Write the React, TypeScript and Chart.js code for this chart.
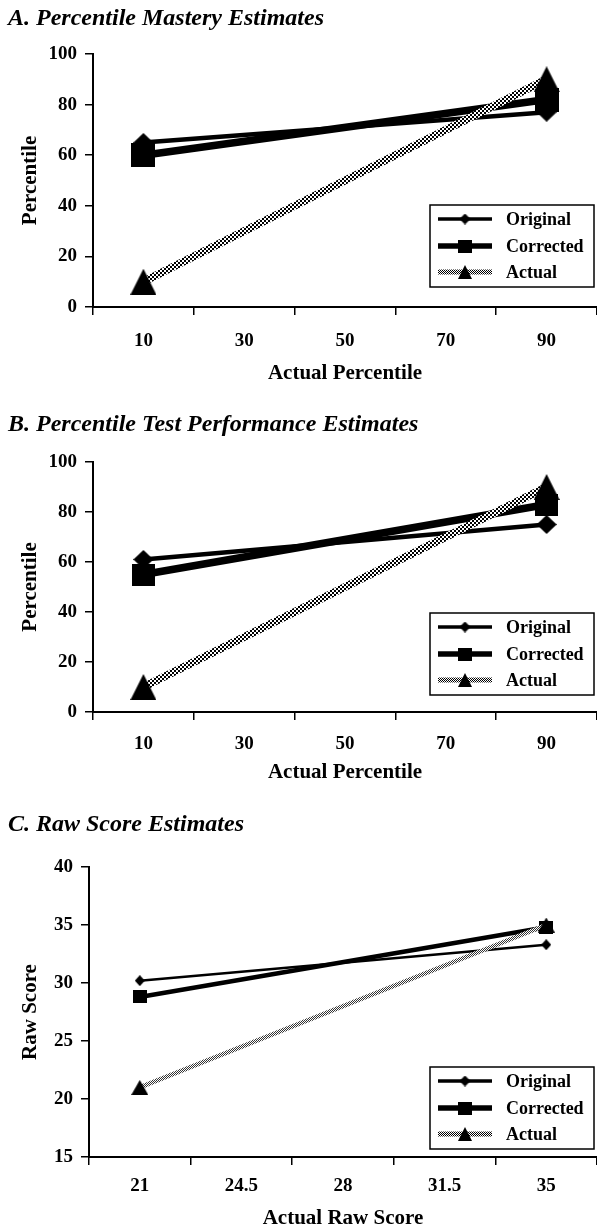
import React, { useEffect, useRef } from "react";
import { Chart, registerables } from "chart.js";

Chart.register(...registerables);

// ---------- data ----------
const SERIES_NAMES = ["Original", "Corrected", "Actual"];

const A_CATEGORIES = ["10", "30", "50", "70", "90"];
const A_ORIGINAL = [65, null, null, null, 77];
const A_CORRECTED = [60, null, null, null, 82];
const A_ACTUAL = [10, null, null, null, 90];
const A_Y_TICKS = [0, 20, 40, 60, 80, 100];

const B_CATEGORIES = ["10", "30", "50", "70", "90"];
const B_ORIGINAL = [61, null, null, null, 75];
const B_CORRECTED = [55, null, null, null, 83];
const B_ACTUAL = [10, null, null, null, 90];
const B_Y_TICKS = [0, 20, 40, 60, 80, 100];

const C_CATEGORIES = ["21", "24.5", "28", "31.5", "35"];
const C_ORIGINAL = [30.2, null, null, null, 33.3];
const C_CORRECTED = [28.8, null, null, null, 34.8];
const C_ACTUAL = [21, null, null, null, 35];
const C_Y_TICKS = [15, 20, 25, 30, 35, 40];

const FONT = "'Liberation Serif', 'Times New Roman', serif";
const W = 597;
const TICK_SIZE = 19;
const AXIS_TITLE_SIZE = 21;
const TITLE_SIZE = 24;

type Shape = "diamond" | "square" | "triangle";

function makeMarker(shape: Shape, w: number, h: number) {
  const c = document.createElement("canvas");
  c.width = Math.ceil(w);
  c.height = Math.ceil(h);
  const ctx = c.getContext("2d")!;
  ctx.fillStyle = "#000";
  ctx.beginPath();
  if (shape === "diamond") {
    ctx.moveTo(w / 2, 0);
    ctx.lineTo(w, h / 2);
    ctx.lineTo(w / 2, h);
    ctx.lineTo(0, h / 2);
  } else if (shape === "square") {
    ctx.rect(0, 0, w, h);
  } else {
    ctx.moveTo(w / 2, 0);
    ctx.lineTo(w, h);
    ctx.lineTo(0, h);
  }
  ctx.closePath();
  ctx.fill();
  return c;
}

function makePattern(target: CanvasRenderingContext2D, dark: string, light: string, cell: number) {
  const c = document.createElement("canvas");
  c.width = cell * 2;
  c.height = cell * 2;
  const ctx = c.getContext("2d")!;
  ctx.fillStyle = light;
  ctx.fillRect(0, 0, cell * 2, cell * 2);
  ctx.fillStyle = dark;
  ctx.fillRect(0, 0, cell, cell);
  ctx.fillRect(cell, cell, cell, cell);
  return target.createPattern(c, "repeat")!;
}

type Panel = {
  title: string;
  xTitle: string;
  yTitle: string;
  categories: string[];
  original: (number | null)[];
  corrected: (number | null)[];
  actual: (number | null)[];
  yTicks: number[];
  height: number;
  chartTop: number;
  chartBottom: number;
  chartLeft: number;
  titleCenter: number;
  xLabelCenter: number;
  xTitleCenter: number;
  yTitleCenter: number;
  lineWidths: number[];
  markerSizes: number[][];
  pattern: [string, string, number];
  legendBottomInset: number;
};

const PANELS: Panel[] = [
  {
    title: "A. Percentile Mastery Estimates",
    xTitle: "Actual Percentile",
    yTitle: "Percentile",
    categories: A_CATEGORIES,
    original: A_ORIGINAL,
    corrected: A_CORRECTED,
    actual: A_ACTUAL,
    yTicks: A_Y_TICKS,
    height: 400,
    chartTop: 54,
    chartBottom: 307,
    chartLeft: 93,
    titleCenter: 19,
    xLabelCenter: 341,
    xTitleCenter: 374,
    yTitleCenter: 31,
    lineWidths: [4.5, 7.5, 8],
    markerSizes: [[20, 19], [24, 24], [26, 26]],
    pattern: ["#000", "#fff", 2],
    legendBottomInset: 20,
  },
  {
    title: "B. Percentile Test Performance Estimates",
    xTitle: "Actual Percentile",
    yTitle: "Percentile",
    categories: B_CATEGORIES,
    original: B_ORIGINAL,
    corrected: B_CORRECTED,
    actual: B_ACTUAL,
    yTicks: B_Y_TICKS,
    height: 400,
    chartTop: 62,
    chartBottom: 312,
    chartLeft: 93,
    titleCenter: 25,
    xLabelCenter: 344,
    xTitleCenter: 373,
    yTitleCenter: 31,
    lineWidths: [4.5, 7.5, 8],
    markerSizes: [[20, 19], [23, 22], [26, 26]],
    pattern: ["#000", "#fff", 2],
    legendBottomInset: 17,
  },
  {
    title: "C. Raw Score Estimates",
    xTitle: "Actual Raw Score",
    yTitle: "Raw Score",
    categories: C_CATEGORIES,
    original: C_ORIGINAL,
    corrected: C_CORRECTED,
    actual: C_ACTUAL,
    yTicks: C_Y_TICKS,
    height: 431,
    chartTop: 67,
    chartBottom: 357,
    chartLeft: 89,
    titleCenter: 25,
    xLabelCenter: 386,
    xTitleCenter: 419,
    yTitleCenter: 31,
    lineWidths: [2.5, 4.5, 4.5],
    markerSizes: [[10, 11], [14, 13], [17, 15]],
    pattern: ["#333", "#fff", 1],
    legendBottomInset: 8,
  },
];

const SHAPES: Shape[] = ["diamond", "square", "triangle"];
const LEGEND_LINE_WIDTHS = [3.5, 5.5, 5];
const LEGEND_MARKERS: number[][] = [[11, 11], [14, 13], [14, 14]];

function PanelChart({ p }: { p: Panel }) {
  const ref = useRef<HTMLCanvasElement | null>(null);

  useEffect(() => {
    const canvas = ref.current!;
    const ctx = canvas.getContext("2d")!;
    const pattern = makePattern(ctx, p.pattern[0], p.pattern[1], p.pattern[2]);
    const legendPattern = makePattern(ctx, "#000", "#fff", 1);
    const markers = SHAPES.map((s, i) => makeMarker(s, p.markerSizes[i][0], p.markerSizes[i][1]));
    const legendMarkers = SHAPES.map((s, i) => makeMarker(s, LEGEND_MARKERS[i][0], LEGEND_MARKERS[i][1]));
    const series = [p.original, p.corrected, p.actual];

    const titleLH = TITLE_SIZE * 1.2;
    const titlePadTop = p.titleCenter - titleLH / 2;
    const titlePadBottom = p.chartTop - titlePadTop - titleLH;
    const tickLH = TICK_SIZE * 1.2;
    const xTickPad = p.xLabelCenter - p.chartBottom - 8 - tickLH / 2;
    const axisLH = AXIS_TITLE_SIZE * 1.2;
    const xTitlePadBottom = p.height - p.xTitleCenter - axisLH / 2;
    const yTitlePadTop = p.yTitleCenter - 8 - axisLH / 2;

    const legendPlugin = {
      id: "boxLegend",
      afterDraw(chart: any) {
        const c = chart.ctx as CanvasRenderingContext2D;
        const area = chart.chartArea;
        const w = 164;
        const h = 82;
        const right = area.right - 3;
        const bottom = area.bottom - p.legendBottomInset;
        const left = right - w;
        const top = bottom - h;
        c.save();
        c.fillStyle = "#fff";
        c.fillRect(left, top, w, h);
        c.strokeStyle = "#000";
        c.lineWidth = 1.5;
        c.strokeRect(left, top, w, h);
        const rows = [14, 41, 67];
        for (let i = 0; i < 3; i++) {
          const y = top + rows[i];
          c.beginPath();
          c.moveTo(left + 8, y);
          c.lineTo(left + 62, y);
          c.lineWidth = LEGEND_LINE_WIDTHS[i];
          c.strokeStyle = i === 2 ? (legendPattern as any) : "#000";
          c.stroke();
          const m = legendMarkers[i];
          c.drawImage(m, left + 35 - m.width / 2, y - m.height / 2);
          c.fillStyle = "#000";
          c.font = `bold 18px ${FONT}`;
          c.textBaseline = "middle";
          c.textAlign = "left";
          c.fillText(SERIES_NAMES[i], left + 76, y + 1);
        }
        c.restore();
      },
    };

    const chart = new Chart(canvas, {
      type: "line",
      data: {
        labels: p.categories,
        datasets: series.map((d, i) => ({
          label: SERIES_NAMES[i],
          data: d,
          borderColor: i === 2 ? (pattern as any) : "#000",
          backgroundColor: "#000",
          borderWidth: p.lineWidths[i],
          pointStyle: markers[i] as any,
          pointRadius: 6,
          pointHoverRadius: 6,
          spanGaps: true,
          tension: 0,
          fill: false,
          order: 2 - i,
        })),
      },
      plugins: [legendPlugin],
      options: {
        responsive: false,
        animation: false,
        events: [],
        layout: { autoPadding: false, padding: { left: 8, right: 0, top: 0, bottom: 0 } },
        plugins: {
          legend: { display: false },
          tooltip: { enabled: false },
          title: {
            display: true,
            text: p.title,
            align: "start",
            color: "#000",
            font: { family: FONT, size: TITLE_SIZE, weight: "bold", style: "italic", lineHeight: 1.2 },
            padding: { top: titlePadTop, bottom: titlePadBottom },
          },
        },
        scales: {
          x: {
            type: "category",
            offset: true,
            border: { display: true, color: "#000", width: 2 },
            grid: {
              display: true,
              drawOnChartArea: false,
              drawTicks: true,
              tickLength: 8,
              color: "#000",
              lineWidth: 1.5,
              offset: true,
            },
            ticks: {
              color: "#000",
              padding: xTickPad,
              maxRotation: 0,
              autoSkip: false,
              font: { family: FONT, size: TICK_SIZE, weight: "bold", lineHeight: 1.2 },
            },
            title: {
              display: true,
              text: p.xTitle,
              color: "#000",
              font: { family: FONT, size: AXIS_TITLE_SIZE, weight: "bold", lineHeight: 1.2 },
              padding: { top: 0, bottom: xTitlePadBottom },
            },
            afterFit: (s: any) => {
              s.height = p.height - p.chartBottom;
              s.paddingLeft = 0;
              s.paddingRight = 0;
            },
          },
          y: {
            type: "linear",
            min: p.yTicks[0],
            max: p.yTicks[p.yTicks.length - 1],
            border: { display: true, color: "#000", width: 2 },
            grid: {
              display: true,
              drawOnChartArea: false,
              drawTicks: true,
              tickLength: 8,
              color: "#000",
              lineWidth: 1.5,
            },
            ticks: {
              color: "#000",
              padding: 8,
              stepSize: p.yTicks[1] - p.yTicks[0],
              font: { family: FONT, size: TICK_SIZE, weight: "bold", lineHeight: 1.2 },
            },
            title: {
              display: true,
              text: p.yTitle,
              color: "#000",
              font: { family: FONT, size: AXIS_TITLE_SIZE, weight: "bold", lineHeight: 1.2 },
              padding: { top: yTitlePadTop, bottom: 0 },
            },
            afterFit: (s: any) => {
              s.width = p.chartLeft - 8;
            },
          },
        },
      } as any,
    });
    return () => chart.destroy();
  }, [p]);

  return (
    <div style={{ width: W, height: p.height }}>
      <canvas ref={ref} width={W} height={p.height} style={{ display: "block", width: W, height: p.height }} />
    </div>
  );
}

export default function App() {
  return (
    <div style={{ position: "absolute", left: 0, top: 0, width: W, background: "#fff" }}>
      {PANELS.map((p, i) => (
        <PanelChart key={i} p={p} />
      ))}
    </div>
  );
}
